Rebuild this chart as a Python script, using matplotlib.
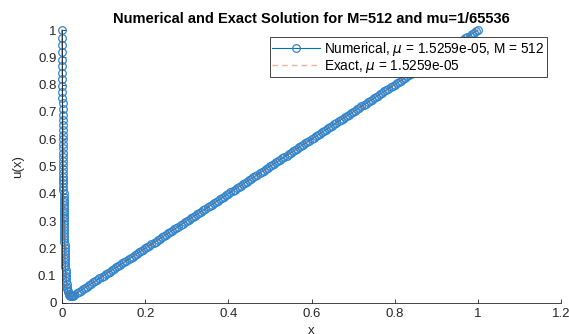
import matplotlib
matplotlib.use("Agg")
import matplotlib.pyplot as plt

plt.rcParams["font.family"] = ["Liberation Sans", "DejaVu Sans"]
plt.rcParams["mathtext.fontset"] = "dejavusans"

# boundary layer points near x = 0
x_layer = [0.0, 0.00011, 0.00022, 0.00033, 0.00045, 0.00056, 0.00067, 0.00078,
           0.00089, 0.0010, 0.0011, 0.0012, 0.0013, 0.0014, 0.0016, 0.0017,
           0.0018, 0.0019, 0.0020, 0.0021, 0.0022, 0.0023, 0.0024, 0.0026,
           0.0027, 0.0028, 0.0029, 0.0030, 0.0031, 0.0032, 0.0033, 0.0034,
           0.0036, 0.0037, 0.0038, 0.0039, 0.0040, 0.0041, 0.0042, 0.0043,
           0.0044, 0.0046, 0.0047, 0.0048, 0.0050, 0.0052, 0.0053, 0.0055,
           0.0057, 0.0059, 0.0061, 0.0063, 0.0065, 0.0067, 0.0069, 0.0073,
           0.0076, 0.0079, 0.0082, 0.0086, 0.0090, 0.0094, 0.0099, 0.0104,
           0.0110, 0.0118, 0.0127, 0.0136, 0.0145, 0.0156, 0.0168, 0.0184,
           0.0205, 0.0230, 0.0260]
u_layer = [1.0, 0.972, 0.945, 0.918, 0.892, 0.867, 0.843, 0.819, 0.796, 0.774,
           0.752, 0.731, 0.710, 0.690, 0.671, 0.652, 0.634, 0.616, 0.599, 0.582,
           0.566, 0.550, 0.534, 0.519, 0.505, 0.490, 0.477, 0.463, 0.450, 0.438,
           0.425, 0.413, 0.402, 0.390, 0.379, 0.369, 0.358, 0.348, 0.338, 0.329,
           0.320, 0.311, 0.302, 0.290, 0.278, 0.266, 0.255, 0.244, 0.233, 0.222,
           0.211, 0.200, 0.190, 0.180, 0.170, 0.160, 0.150, 0.140, 0.130, 0.120,
           0.110, 0.100, 0.090, 0.080, 0.070, 0.060, 0.052, 0.045, 0.039, 0.034,
           0.030, 0.027, 0.025, 0.024, 0.026]

# outer region, u(x) ~ x (markers so dense they form a band)
x_outer = [0.030, 0.035, 0.040, 0.045, 0.050, 0.055, 0.060, 0.065, 0.070, 0.075,
           0.080, 0.085, 0.090, 0.095, 0.100, 0.105, 0.110, 0.115, 0.120, 0.125,
           0.130, 0.135, 0.140, 0.145, 0.150, 0.155, 0.160, 0.165, 0.170, 0.175,
           0.180, 0.185, 0.190, 0.195, 0.200, 0.205, 0.210, 0.215, 0.220, 0.225,
           0.230, 0.235, 0.240, 0.245, 0.250, 0.255, 0.260, 0.265, 0.270, 0.275,
           0.280, 0.285, 0.290, 0.295, 0.300, 0.305, 0.310, 0.315, 0.320, 0.325,
           0.330, 0.335, 0.340, 0.345, 0.350, 0.355, 0.360, 0.365, 0.370, 0.375,
           0.380, 0.385, 0.390, 0.395, 0.400, 0.405, 0.410, 0.415, 0.420, 0.425,
           0.430, 0.435, 0.440, 0.445, 0.450, 0.455, 0.460, 0.465, 0.470, 0.475,
           0.480, 0.485, 0.490, 0.495, 0.500, 0.505, 0.510, 0.515, 0.520, 0.525,
           0.530, 0.535, 0.540, 0.545, 0.550, 0.555, 0.560, 0.565, 0.570, 0.575,
           0.580, 0.585, 0.590, 0.595, 0.600, 0.605, 0.610, 0.615, 0.620, 0.625,
           0.630, 0.635, 0.640, 0.645, 0.650, 0.655, 0.660, 0.665, 0.670, 0.675,
           0.680, 0.685, 0.690, 0.695, 0.700, 0.705, 0.710, 0.715, 0.720, 0.725,
           0.730, 0.735, 0.740, 0.745, 0.750, 0.755, 0.760, 0.765, 0.770, 0.775,
           0.780, 0.785, 0.790, 0.795, 0.800, 0.805, 0.810, 0.815, 0.820, 0.825,
           0.830, 0.835, 0.840, 0.845, 0.850, 0.855, 0.860, 0.865, 0.870, 0.875,
           0.880, 0.885, 0.890, 0.895, 0.900, 0.905, 0.910, 0.915, 0.920, 0.925,
           0.930, 0.935, 0.940, 0.945, 0.950, 0.955, 0.960, 0.965, 0.970, 0.975,
           0.980, 0.985, 0.990, 0.995, 1.000]
u_outer = list(x_outer)

x_num = x_layer + x_outer
u_num = u_layer + u_outer
u_exact = list(u_num)

x_ticks = [0, 0.2, 0.4, 0.6, 0.8, 1, 1.2]
x_ticklabels = ['0', '0.2', '0.4', '0.6', '0.8', '1', '1.2']
y_ticks = [0, 0.1, 0.2, 0.3, 0.4, 0.5, 0.6, 0.7, 0.8, 0.9, 1]
y_ticklabels = ['0', '0.1', '0.2', '0.3', '0.4', '0.5', '0.6', '0.7', '0.8', '0.9', '1']

fig = plt.figure(figsize=(5.69, 3.34), dpi=100)
ax = fig.add_axes([0.109, 0.093, 0.877, 0.817])

ax.plot(x_num, u_num, color='#0072BD', linewidth=0.8, marker='o', markersize=5.5,
        markerfacecolor='none', markeredgecolor='#2f86cf', markeredgewidth=0.9,
        clip_on=False, label=r'Numerical, $\mu$ = 1.5259e-05, M = 512')
ax.plot(x_num, u_exact, color='#D95319', linewidth=1.0, linestyle='--', alpha=0.45,
        dashes=(4, 3), clip_on=False, label=r'Exact, $\mu$ = 1.5259e-05')

ax.set_xlim(0, 1.2)
ax.set_ylim(0, 1)
ax.set_xticks(x_ticks)
ax.set_xticklabels(x_ticklabels)
ax.set_yticks(y_ticks)
ax.set_yticklabels(y_ticklabels)
ax.tick_params(direction='in', length=3, width=0.6, labelsize=9.5, colors='#262626',
               pad=4)
for s in ['top', 'right']:
    ax.spines[s].set_visible(False)
for s in ['left', 'bottom']:
    ax.spines[s].set_color('#262626')
    ax.spines[s].set_linewidth(0.6)

ax.set_xlabel('x', fontsize=9.5, color='#262626', labelpad=3)
ax.set_ylabel('u(x)', fontsize=9.5, color='#262626', labelpad=10)
ax.set_title('Numerical and Exact Solution for M=512 and mu=1/65536',
             fontsize=10.5, fontweight='bold', pad=5)

leg = ax.legend(loc='upper right', bbox_to_anchor=(547 / 569, 1 - 37 / 334),
                bbox_transform=fig.transFigure, borderaxespad=0, fontsize=9.8,
                handlelength=3.5, fancybox=False, framealpha=1, edgecolor='#262626',
                borderpad=0.2, labelspacing=0.0, handletextpad=0.3)
leg.get_frame().set_linewidth(0.6)

fig.savefig('out.png', dpi=100)
